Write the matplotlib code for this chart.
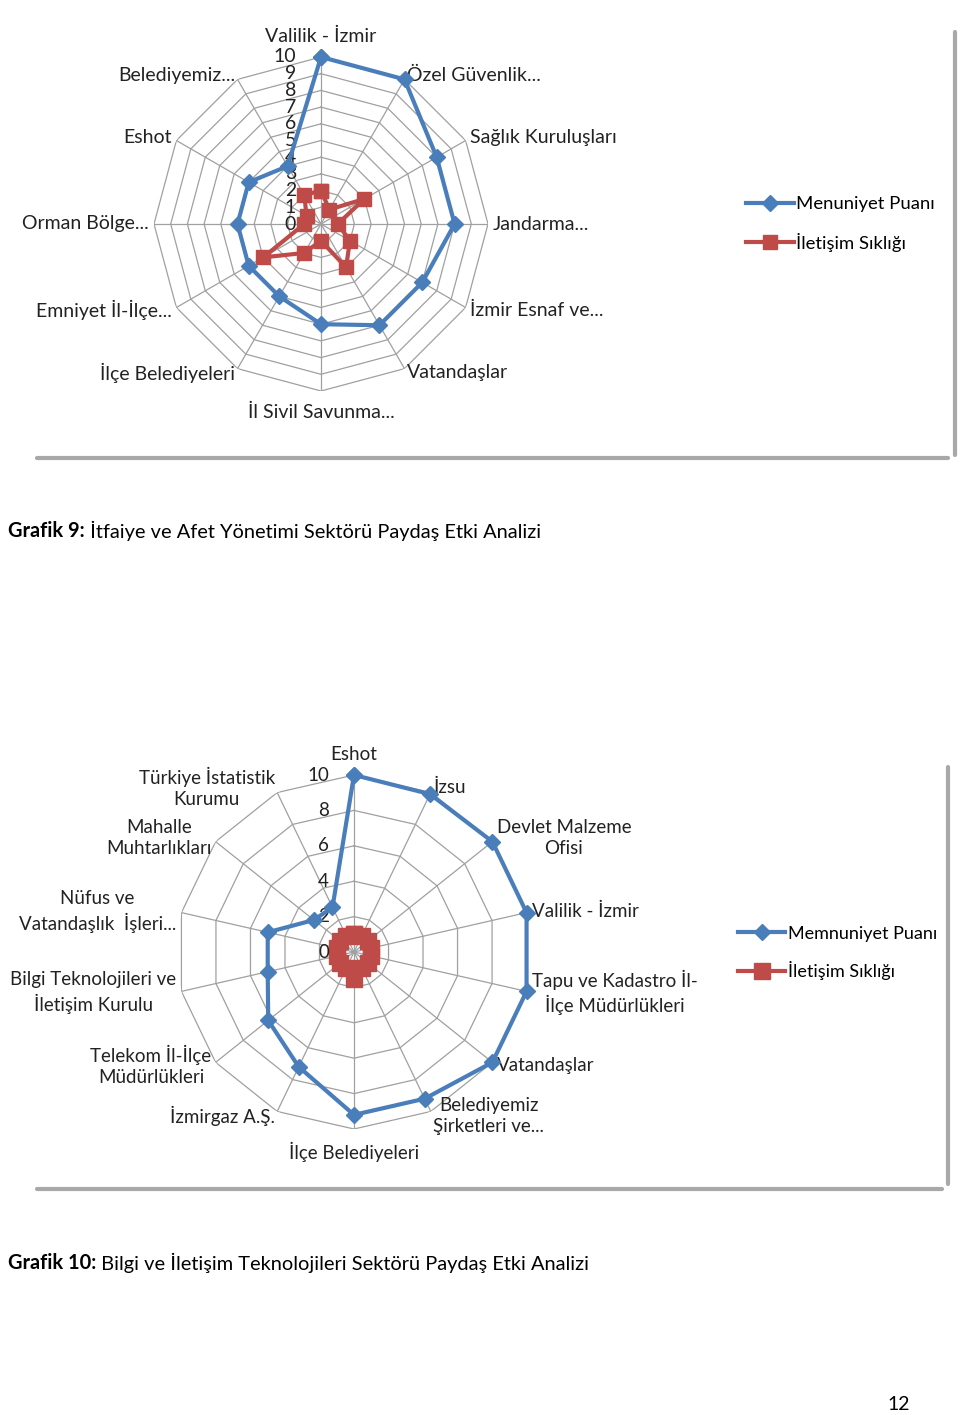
import numpy as np
import matplotlib
matplotlib.use("Agg")
import matplotlib.pyplot as plt
from matplotlib.lines import Line2D

plt.rcParams['font.family'] = ['Lato', 'DejaVu Sans']

# Grafik 9 - İtfaiye ve Afet Yönetimi
kategoriler_9 = ["Valilik - İzmir", "Özel Güvenlik...", "Sağlık Kuruluşları", "Jandarma...",
                 "İzmir Esnaf ve...", "Vatandaşlar", "İl Sivil Savunma...", "İlçe Belediyeleri",
                 "Emniyet İl-İlçe...", "Orman Bölge...", "Eshot", "Belediyemiz..."]
memnuniyet_9 = [10, 10, 8, 8, 7, 7, 6, 5, 5, 5, 5, 4]
iletisim_9 = [2, 1, 3, 1, 2, 3, 1, 2, 4, 1, 1, 2]
halkalar_9 = list(range(1, 11))
etiketler_9 = list(range(0, 11))
seriler_9 = ["Menuniyet Puanı", "İletişim Sıklığı"]

# Grafik 10 - Bilgi ve İletişim Teknolojileri
kategoriler_10 = ["Eshot", "İzsu", "Devlet Malzeme\nOfisi", "Valilik - İzmir",
                  "Tapu ve Kadastro İl-\nİlçe Müdürlükleri", "Vatandaşlar",
                  "Belediyemiz\nŞirketleri ve...", "İlçe Belediyeleri", "İzmirgaz A.Ş.",
                  "Telekom İl-İlçe\nMüdürlükleri", "Bilgi Teknolojileri ve\nİletişim Kurulu",
                  "Nüfus ve\nVatandaşlık  İşleri...", "Mahalle\nMuhtarlıkları",
                  "Türkiye İstatistik\nKurumu"]
memnuniyet_10 = [10, 9.9, 10, 10, 10, 10, 9.2, 9.2, 7.2, 6.2, 5, 5, 2.9, 2.8]
iletisim_10 = [1, 1, 1, 1, 1, 1, 1, 1.5, 1, 1, 1, 1, 1, 1]
halkalar_10 = [2, 4, 6, 8, 10]
etiketler_10 = [0, 2, 4, 6, 8, 10]
seriler_10 = ["Memnuniyet Puanı", "İletişim Sıklığı"]

MAVI = '#4a7ebb'
KIRMIZI = '#be4b48'
GRI = '#a0a0a0'

W, H = 960, 1415
fig = plt.figure(figsize=(W / 100, H / 100), dpi=100)
fig.patch.set_facecolor('white')


def fx(x):
    return x / W


def fy(y):
    return 1 - y / H


def radar(cx, cy, rad, kategoriler, memnuniyet, iletisim, halkalar, etiketler, seriler,
          leg_xy, kare_boy, fs, lfs):
    ax = fig.add_axes([fx(cx - rad), fy(cy + rad), 2 * rad / W, 2 * rad / H], projection='polar')
    ax.set_theta_zero_location('N')
    ax.set_theta_direction(-1)
    ax.set_ylim(0, 10)
    ax.grid(False)
    ax.spines['polar'].set_visible(False)
    ax.set_xticks([])
    ax.set_yticks([])
    ax.patch.set_alpha(0)

    n = len(kategoriler)
    aci = np.linspace(0, 2 * np.pi, n, endpoint=False)
    kapali = np.append(aci, aci[0])
    for h in halkalar:
        ax.plot(kapali, [h] * (n + 1), color=GRI, lw=0.9, zorder=1)
    for a in aci:
        ax.plot([a, a], [0, 10], color=GRI, lw=0.9, zorder=1)

    ax.plot(kapali, np.append(memnuniyet, memnuniyet[0]), color=MAVI, lw=3, marker='D',
            ms=8, mfc=MAVI, mec=MAVI, clip_on=False, zorder=4, label=seriler[0])
    ax.plot(kapali, np.append(iletisim, iletisim[0]), color=KIRMIZI, lw=3, marker='s',
            ms=kare_boy, mfc=KIRMIZI, mec=KIRMIZI, clip_on=False, zorder=3, label=seriler[1])

    for a, k in zip(aci, kategoriler):
        d = np.degrees(a)
        rr = 10.3
        if abs(d) < 1:
            ha, va, rr = 'center', 'bottom', 10.7
        elif abs(d - 180) < 1:
            ha, va, rr = 'center', 'top', 10.75
        elif d < 180:
            ha, va = 'left', 'center'
        else:
            ha, va = 'right', 'center'
        ax.text(a, rr, k, ha=ha, va=va, fontsize=fs, color='#222222',
                multialignment='center', linespacing=1.3)

    for e in etiketler:
        ax.annotate(str(e), xy=(0, e), xytext=(-18, 0), textcoords='offset points',
                    ha='right', va='center', fontsize=fs, color='#222222')

    ax.legend(loc='center left', bbox_to_anchor=(fx(leg_xy[0]), fy(leg_xy[1])),
              bbox_transform=fig.transFigure, frameon=False, fontsize=lfs,
              handlelength=2.6, handletextpad=0.15, labelspacing=1.1, markerscale=1.0)
    return ax


radar(321, 224, 167, kategoriler_9, memnuniyet_9, iletisim_9, halkalar_9, etiketler_9,
      seriler_9, (729, 224), 10, 14, 13.3)
radar(354, 952, 177, kategoriler_10, memnuniyet_10, iletisim_10, halkalar_10, etiketler_10,
      seriler_10, (722, 953), 12, 13.5, 13)

# gölge çizgileri (çerçeve)
for (x0, y0, x1, y1) in [(37, 458, 948, 458), (955, 32, 955, 455),
                         (37, 1189, 942, 1189), (948, 767, 948, 1184)]:
    fig.add_artist(Line2D([fx(x0), fx(x1)], [fy(y0), fy(y1)], transform=fig.transFigure,
                          color='#a8a8a8', lw=3, solid_capstyle='round'))

# başlıklar
fig.canvas.draw()
r = fig.canvas.get_renderer()
for y, kalin, normal in [(531, "Grafik 9:", " İtfaiye ve Afet Yönetimi Sektörü Paydaş Etki Analizi"),
                         (1263, "Grafik 10:", " Bilgi ve İletişim Teknolojileri Sektörü Paydaş Etki Analizi")]:
    t = fig.text(fx(8), fy(y), kalin, fontsize=14.4, fontweight='bold', va='center', ha='left')
    bb = t.get_window_extent(renderer=r)
    fig.text(bb.x1 / W, fy(y), normal, fontsize=14.4, va='center', ha='left')

fig.text(fx(899), fy(1405), "12", fontsize=14, ha='center', va='center')

fig.savefig("out.png", dpi=100)
